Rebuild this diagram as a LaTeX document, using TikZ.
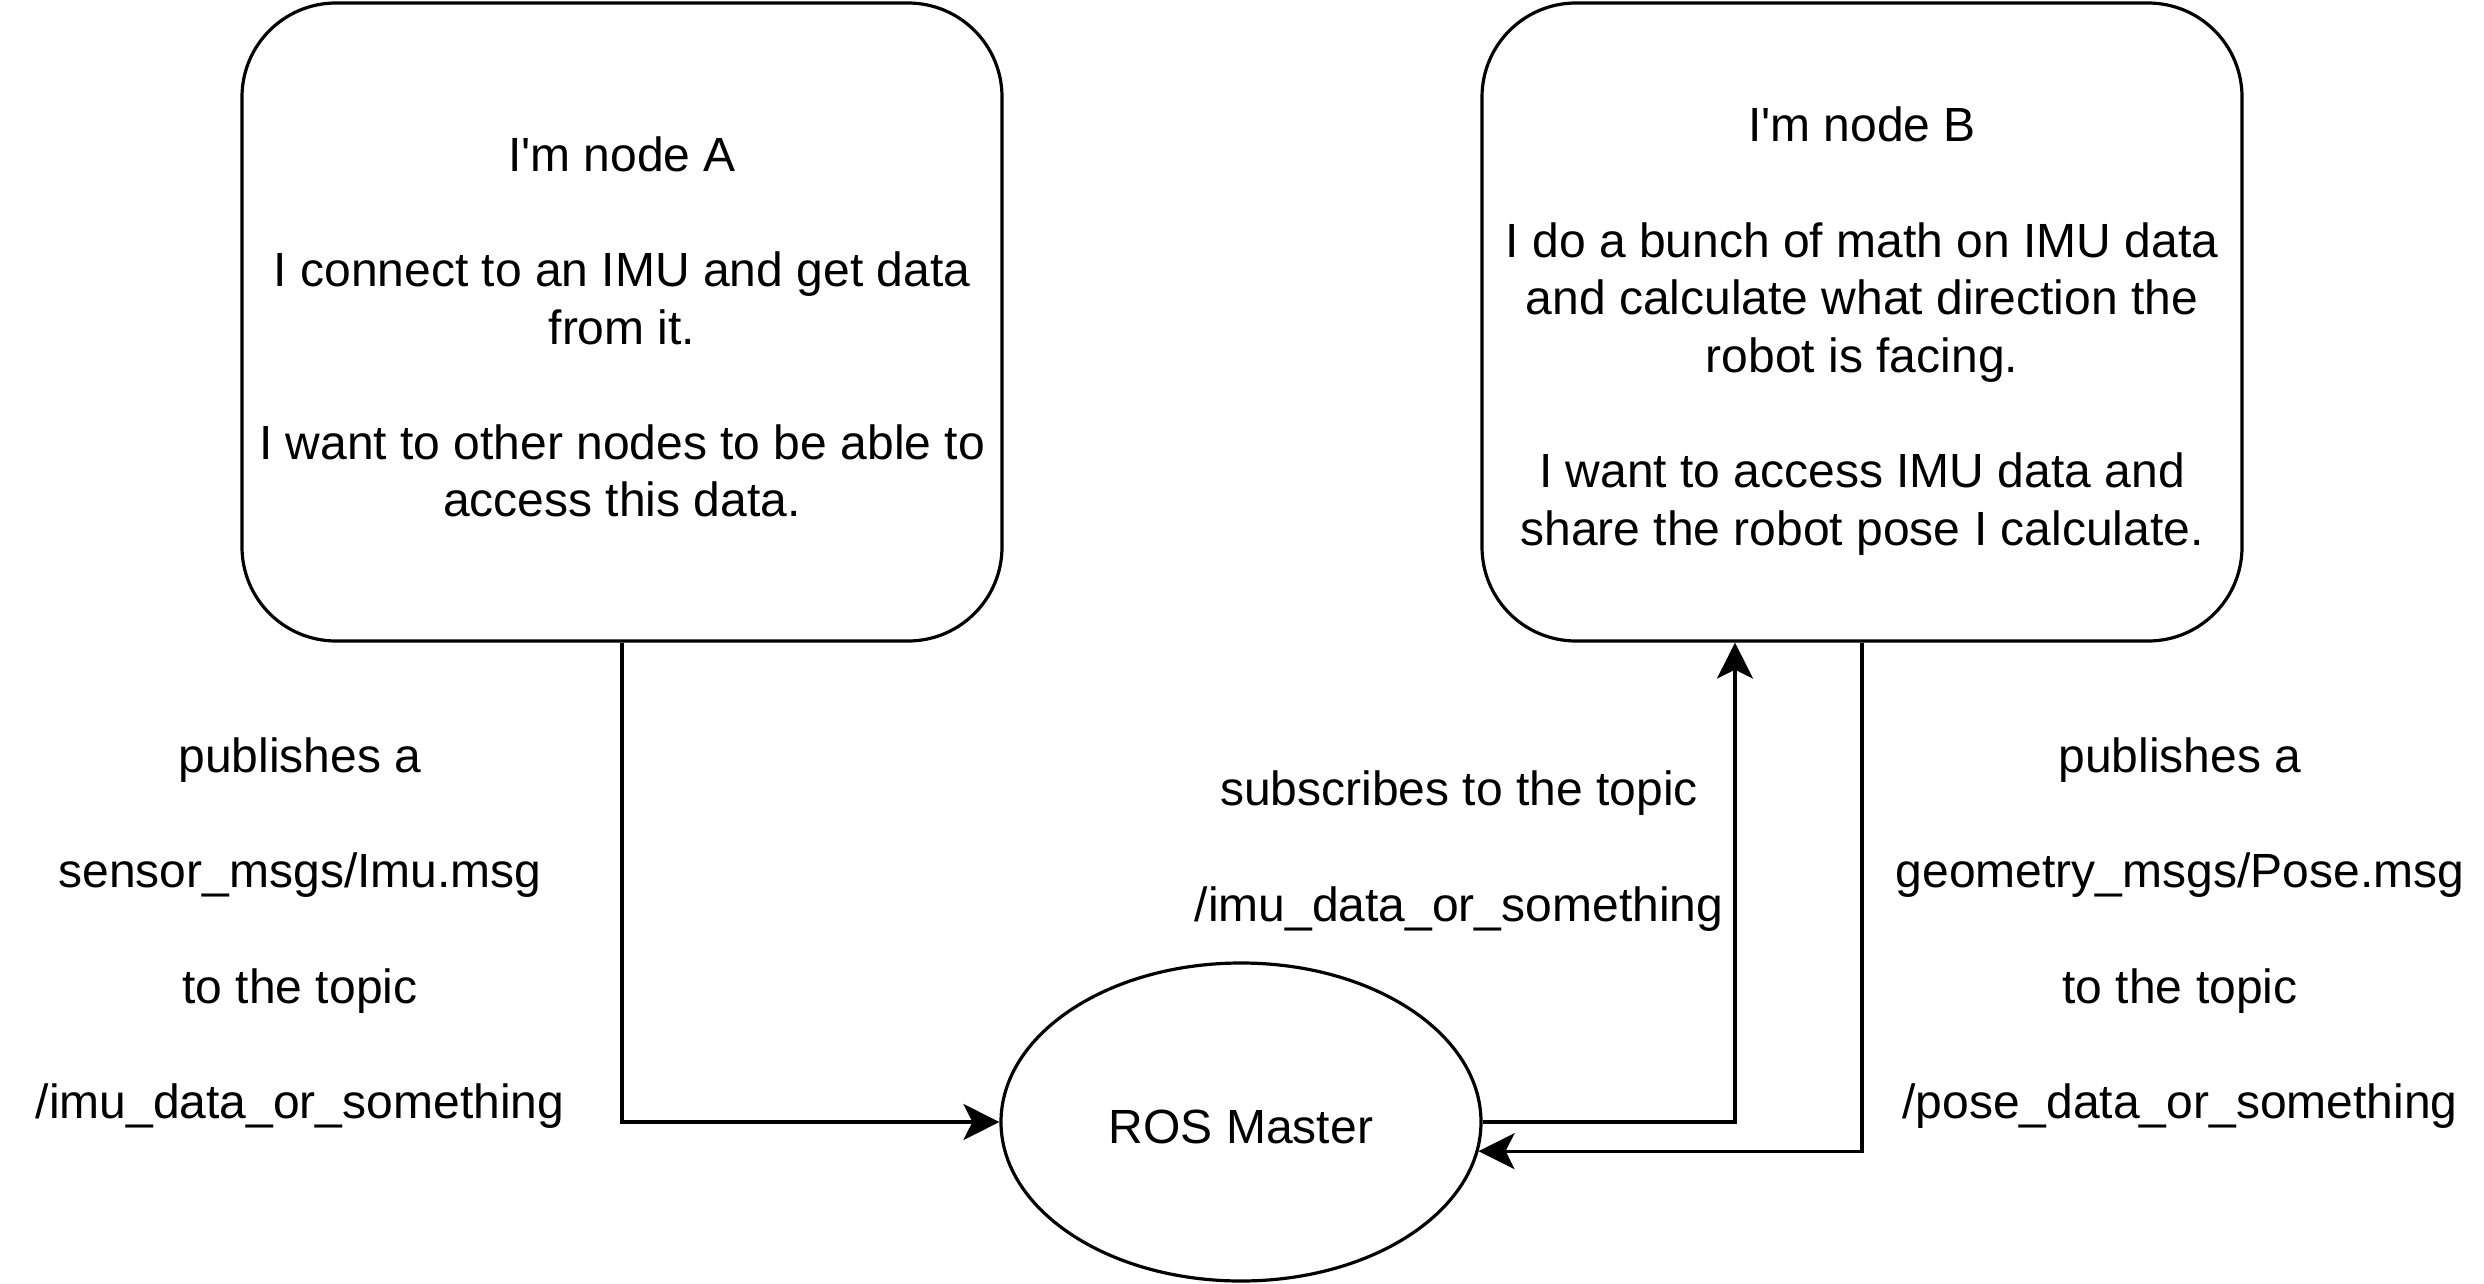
\documentclass[tikz,border=0pt]{standalone}
\usepackage{fontspec}
\setmainfont{Liberation Sans}
\usetikzlibrary{shapes.geometric,arrows.meta}
\begin{document}
\begin{tikzpicture}[x=0.5pt,y=-0.5pt, line width=1.6pt,
  box/.style={draw, rounded corners=47pt, minimum width=380pt, minimum height=319pt, inner sep=0pt},
  ell/.style={draw, ellipse, minimum width=240pt, minimum height=159pt, inner sep=0pt},
  txt/.style={align=center, font=\fontsize{24}{28.8}\selectfont},
  arr/.style={-{Stealth[length=18pt,width=18pt,inset=4.5pt]}}]
\useasboundingbox (0,0) rectangle (2484,1284);
\node[box] (A) at (622,322) {};
\node[box] (B) at (1862,322) {};
\node[txt] (At) at ([yshift=-2.5pt]A.center) {I\textquotesingle m node A\\[28.8pt]I connect to an IMU and get data\\from it.\\[28.8pt]I want to other nodes to be able to\\access this data.};
\node[txt] (Bt) at ([yshift=-4.5pt]B.center) {I\textquotesingle m node B\\[28.8pt]I do a bunch of math on IMU data\\and calculate what direction the\\robot is facing.\\[28.8pt]I want to access IMU data and\\share the robot pose I calculate.};
\node[ell] (ros) at (1241,1122) {};
\node[txt] (rost) at ([yshift=-2.5pt]ros.center) {ROS Master};
\node[txt] (la) at (300,933) {publishes a\\[28.8pt]sensor\_msgs/Imu.msg\\[28.8pt]to the topic\\[28.8pt]/imu\_data\_or\_something};
\node[txt] (ls) at (1459,851) {subscribes to the topic\\[28.8pt]/imu\_data\_or\_something};
\node[txt] (lb) at (2180,933) {publishes a\\[28.8pt]geometry\_msgs/Pose.msg\\[28.8pt]to the topic\\[28.8pt]/pose\_data\_or\_something};
\draw[arr] (A.south) |- (ros.west);
\draw[arr] (ros.east) -| ([xshift=-63.5pt]B.south);
\draw[arr] (B.south) |- (ros.-7);
\end{tikzpicture}
\end{document}
